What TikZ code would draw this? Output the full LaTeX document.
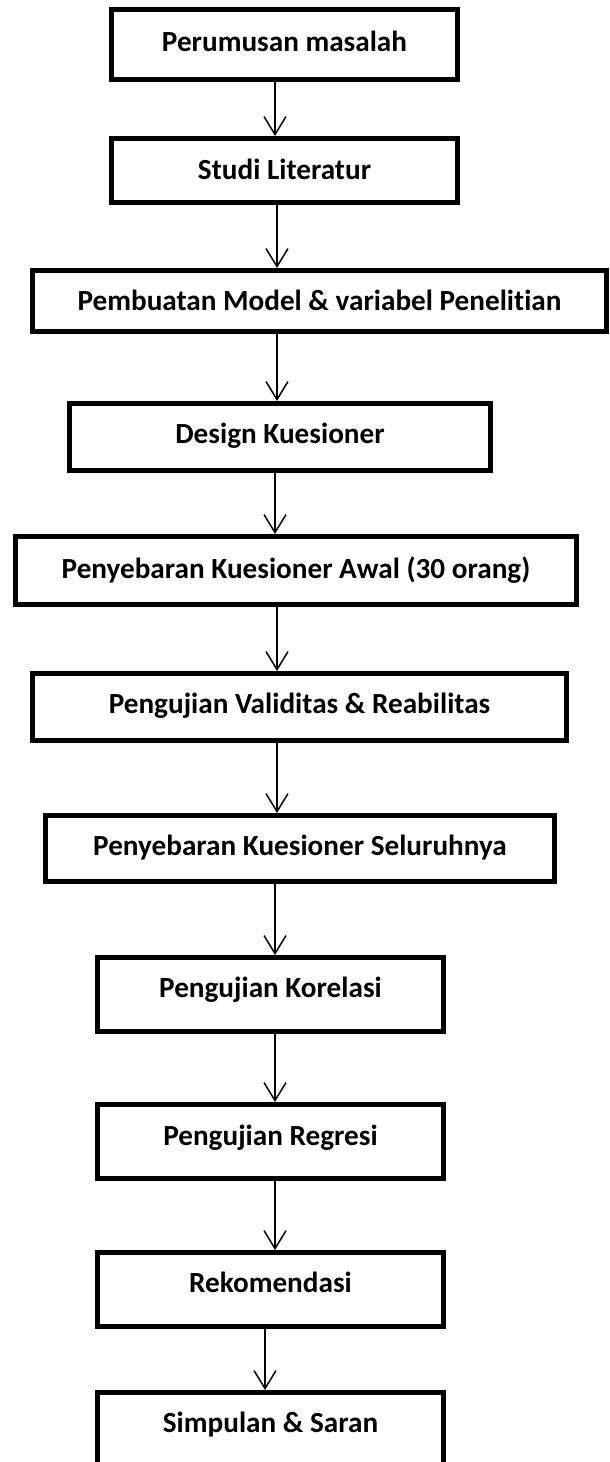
\documentclass[tikz,border=0pt]{standalone}
\usepackage{fontspec}
\setmainfont{Carlito}[Ligatures=CommonOff]
\usetikzlibrary{arrows.meta}
\begin{document}
\begin{tikzpicture}[x=0.5pt,y=-0.5pt,
  box/.style={draw, line width=2.5pt, inner sep=0pt, fill=white,
    font=\fontsize{14.6}{17}\selectfont\bfseries, text height=9.4pt},
  arr/.style={line width=0.75pt, -{Straight Barb[length=9pt,width=11pt]}}]
\useasboundingbox (0,0) rectangle (610,1462);
\clip (0,0) rectangle (610,1462);
\node[box, minimum width=173pt, minimum height=35pt, text depth=2.5pt] (b1) at (284.5,44.5) {Perumusan masalah};
\node[box, minimum width=173pt, minimum height=32pt, text depth=0pt] (b2) at (284.5,170.5) {Studi Literatur};
\node[box, minimum width=287pt, minimum height=30.5pt, text depth=0pt] (b3) at (319.5,301) {Pembuatan Model \& variabel Penelitian};
\node[box, minimum width=210.5pt, minimum height=33.5pt, text depth=3pt] (b4) at (280,437) {Design Kuesioner};
\node[box, minimum width=280.5pt, minimum height=34pt, text depth=1.5pt] (b5) at (296,570.5) {Penyebaran Kuesioner Awal (30 orang)};
\node[box, minimum width=267pt, minimum height=33.5pt, text depth=3pt] (b6) at (299.5,707) {Pengujian Validitas \& Reabilitas};
\node[box, minimum width=254.5pt, minimum height=33pt, text depth=2.5pt] (b7) at (300,848.5) {Penyebaran Kuesioner Seluruhnya};
\node[box, minimum width=173pt, minimum height=37pt, text depth=6.5pt] (b8) at (270.5,994.5) {Pengujian Korelasi};
\node[box, minimum width=173pt, minimum height=37pt, text depth=5.5pt] (b9) at (270.5,1141.5) {Pengujian Regresi};
\node[box, minimum width=173pt, minimum height=37pt, text depth=6.5pt] (b10) at (270.5,1289.5) {Rekomendasi};
\node[box, minimum width=173pt, minimum height=37pt, text depth=6.5pt] (b11) at (270.5,1429.5) {Simpulan \& Saran};
\coordinate (xa) at (275,0);
\coordinate (xb) at (277,0);
\coordinate (xc) at (265,0);
\draw[arr] (b1.south -| xa) -- (b2.north -| xa);
\draw[arr] (b2.south -| xb) -- (b3.north -| xb);
\draw[arr] (b3.south -| xb) -- (b4.north -| xb);
\draw[arr] (b4.south -| xa) -- (b5.north -| xa);
\draw[arr] (b5.south -| xb) -- (b6.north -| xb);
\draw[arr] (b6.south -| xb) -- (b7.north -| xb);
\draw[arr] (b7.south -| xa) -- (b8.north -| xa);
\draw[arr] (b8.south -| xa) -- (b9.north -| xa);
\draw[arr] (b9.south -| xa) -- (b10.north -| xa);
\draw[arr] (b10.south -| xc) -- (b11.north -| xc);
\end{tikzpicture}
\end{document}
